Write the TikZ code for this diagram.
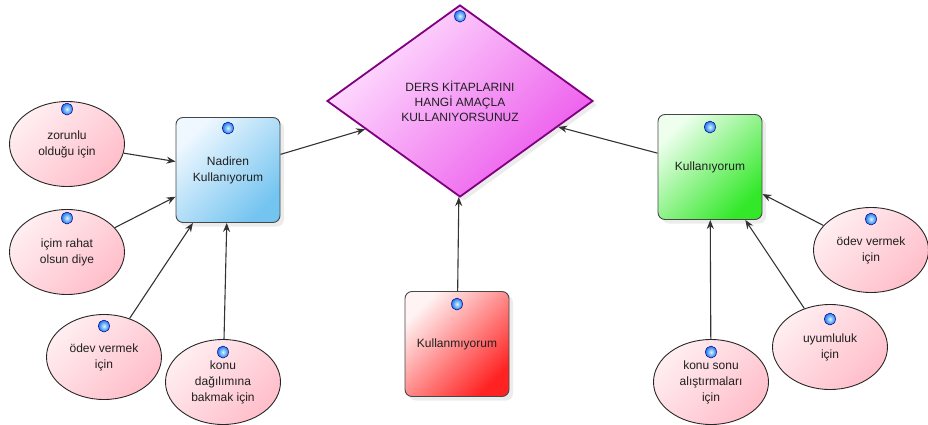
\documentclass[tikz,border=0pt]{standalone}
\usepackage{fontspec}
\setmainfont{Liberation Sans}
\usetikzlibrary{shapes.geometric,arrows.meta,shadows}

\definecolor{reasonlight}{RGB}{255,238,241}
\definecolor{reasondark}{RGB}{255,190,202}
\definecolor{rarelight}{RGB}{240,248,255}
\definecolor{raredark}{RGB}{116,196,240}
\definecolor{uselight}{RGB}{238,255,238}
\definecolor{usedark}{RGB}{50,232,40}
\definecolor{nouselight}{RGB}{255,243,243}
\definecolor{nousedark}{RGB}{255,34,34}
\definecolor{asklight}{RGB}{255,228,255}
\definecolor{askdark}{RGB}{236,86,236}
\definecolor{askborder}{RGB}{128,0,128}
\definecolor{dotinner}{RGB}{215,245,255}
\definecolor{dotouter}{RGB}{30,120,235}

\tikzset{
  every node/.style={font=\fontsize{12}{16}\selectfont, text=black!88},
  reason/.style={ellipse, draw=black!85, line width=0.9pt, minimum width=115pt, minimum height=85pt, inner sep=0pt, align=center,
    top color=reasonlight, bottom color=reasondark, shading angle=45},
  answer/.style={rectangle, rounded corners=7pt, draw=black!72, line width=0.9pt, minimum width=104pt, minimum height=105pt, align=center,
    drop shadow={shadow xshift=4pt, shadow yshift=-4pt, opacity=0.15}},
  question/.style={diamond, draw=askborder, line width=1.8pt, minimum width=266pt, minimum height=192pt, inner sep=0pt, align=center,
    font=\fontsize{12}{15}\selectfont, top color=asklight, bottom color=askdark, shading angle=45,
    drop shadow={shadow xshift=4pt, shadow yshift=-4pt, opacity=0.15}},
  link/.style={-{Stealth[length=9pt,width=7pt]}, line width=1.1pt, black!80},
}

\begin{document}
\begin{tikzpicture}[x=1pt,y=-1pt]
    \useasboundingbox (0,0) rectangle (928,425);

    \node[question] (ask) at (460,101) {DERS KİTAPLARINI\\HANGİ AMAÇLA\\KULLANIYORSUNUZ};
    \node[answer,top color=rarelight,bottom color=raredark,shading angle=45] (rare) at (228,170) {Nadiren\\Kullanıyorum};
    \node[answer,top color=uselight,bottom color=usedark,shading angle=45] (use) at (710,167) {Kullanıyorum};
    \node[answer,top color=nouselight,bottom color=nousedark,shading angle=45] (nouse) at (457,344) {Kullanmıyorum};

    \node[reason] (must) at (67,144) {zorunlu\\olduğu için};
    \node[reason] (ease) at (67,252) {içim rahat\\olsun diye};
    \node[reason] (hwleft) at (104,357) {ödev vermek\\için};
    \node[reason] (spread) at (223,382) {konu\\dağılımına\\bakmak için};
    \node[reason] (hwright) at (871,250) {ödev vermek\\için};
    \node[reason] (fit) at (830,347) {uyumluluk\\için};
    \node[reason] (drill) at (711,382) {konu sonu\\alıştırmaları\\için};

    \draw[link] (must) -- (rare) ;
    \draw[link] (ease) -- (rare) ;
    \draw[link] (hwleft) -- (rare) ;
    \draw[link] (spread) -- (rare) ;
    \draw[link] (rare) -- (ask) ;
    \draw[link] (nouse) -- (ask) ;
    \draw[link] (use) -- (ask) ;
    \draw[link] (hwright) -- (use) ;
    \draw[link] (fit) -- (use) ;
    \draw[link] (drill) -- (use) ;

    \foreach \n/\d in {ask/12,rare/11,use/13,nouse/13,must/8,ease/9,hwleft/12,spread/13,hwright/12,fit/15,drill/13}
        \shadedraw[inner color=dotinner,outer color=dotouter,draw=blue!55!black,line width=0.5pt] ([yshift=-\d pt]\n.north) ellipse (5.5pt and 6pt);
\end{tikzpicture}
\end{document}
